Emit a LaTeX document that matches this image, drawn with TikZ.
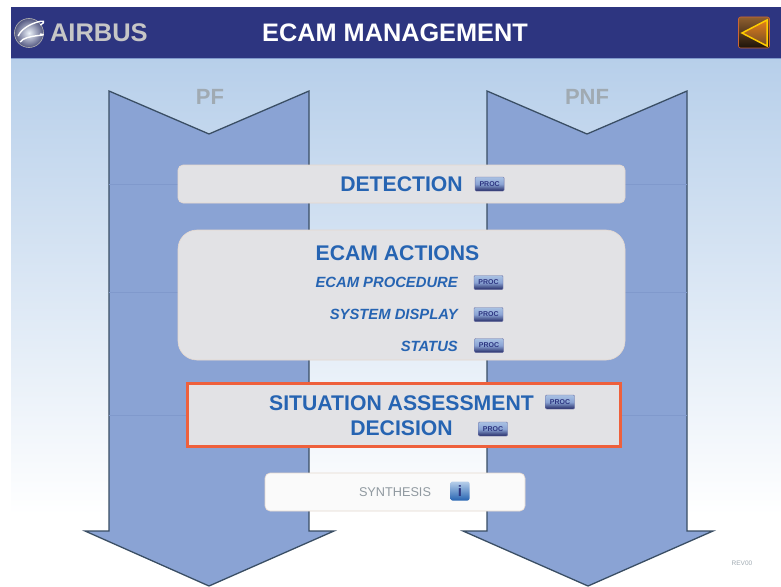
\documentclass[tikz,border=0pt]{standalone}
\usepackage{fontspec}
\setmainfont{Liberation Sans}
\usetikzlibrary{positioning}
\definecolor{headblue}{RGB}{45,53,128}
\definecolor{skyblue}{RGB}{183,207,234}
\definecolor{flowblue}{RGB}{138,163,212}
\definecolor{edgeslate}{RGB}{58,78,100}
\definecolor{seamblue}{RGB}{128,153,204}
\definecolor{boxgray}{RGB}{226,226,229}
\definecolor{inkblue}{RGB}{38,100,178}
\definecolor{alertred}{RGB}{238,96,60}
\definecolor{softgray}{RGB}{160,170,178}
\tikzset{
    flow/.style={draw=edgeslate, line width=1.3pt, fill=flowblue, line join=miter},
    seam/.style={seamblue, line width=0.5pt},
    basic/.style={font=\bfseries, text=inkblue, inner sep=0pt},
    panel/.style={rectangle, fill=boxgray, draw=boxgray!90!orange, line width=0.6pt, inner sep=0pt},
    heading/.style={basic, font=\fontsize{21.2}{21}\selectfont\bfseries},
    subheading/.style={basic, font=\fontsize{14.8}{15}\selectfont\bfseries\itshape},
    actor/.style={basic, text=softgray, font=\fontsize{22}{22}\selectfont\bfseries},
    procbtn/.style={rectangle, rounded corners=1pt, draw=headblue!70, line width=0.4pt,
        top color=skyblue!70!flowblue, bottom color=headblue!80!black, middle color=flowblue, minimum width=29pt, minimum height=14pt,
        inner sep=0pt, text=headblue, font=\fontsize{7}{7}\selectfont\bfseries}
}
\begin{document}
\begin{tikzpicture}[x=1pt,y=-1pt]
    \useasboundingbox (0,0) rectangle (781,586);
    \fill[white] (0,0) rectangle (781,586);
    % sky and title bar
    \shade[top color=skyblue, bottom color=white, middle color=skyblue!50] (11,58) rectangle (781,515);
    \fill[headblue] (11,7) rectangle (781,58);
    \draw[seamblue, line width=0.8pt] (11,58.5) -- (781,58.5);
    % the two flows
    \draw[flow] (109,91) -- (209,134) -- (309,91) -- (309,531) -- (334,531) -- (209,586) -- (85,531) -- (109,531) -- cycle;
    \draw[flow] (487,91) -- (587,134) -- (687,91) -- (687,531) -- (713,531) -- (588,586) -- (463,531) -- (487,531) -- cycle;
    \foreach \y in {184,292,415}{
        \draw[seam] (109,\y) -- (309,\y);
        \draw[seam] (487,\y) -- (687,\y);
    }
    \node[actor] (pf) at (210,97) {PF};
    \node[actor] (pnf) at (587,97) {PNF};
    % title bar content
    \node[circle, minimum size=29pt, inner sep=0pt, draw=gray!60, line width=0.6pt, inner color=white!75!skyblue, outer color=headblue!55!gray] (logo) at (29,33) {};
    \draw[white, line width=1.4pt] (logo.west) ++(4,3) .. controls +(6,-14) and +(14,-8) .. ++(22,-11);
    \draw[white, line width=1.4pt] (logo.west) ++(6,9) .. controls +(5,-8) and +(12,2) .. ++(20,-8);
    \node[basic, text=gray!45, font=\fontsize{25.5}{26}\selectfont\bfseries, right=6pt of logo] (airbus) {AIRBUS};
    \node[basic, text=white, font=\fontsize{25.3}{25}\selectfont\bfseries] (title) at (395,33) {ECAM MANAGEMENT};
    \node[rectangle, rounded corners=2pt, minimum width=31pt, minimum height=31pt, draw=brown!80!red, line width=0.6pt, top color=brown!75!black, bottom color=black!85!brown] (back) at (754,32.5) {};
    \draw[orange!40!yellow, line width=1.5pt, line join=miter, top color=orange!60!brown, bottom color=brown!60!black] (767,20) -- (742,33) -- (767,46) -- cycle;
    % panels
    \node[panel, rounded corners=5pt, minimum width=447pt, minimum height=38pt] (detectbox) at (401.5,184) {};
    \node[heading] (detect) at (401.5,184) {DETECTION};
    \node[procbtn, right=12pt of detect] (detectproc) {PROC};
    \node[panel, rounded corners=19pt, minimum width=447pt, minimum height=130pt] (ecambox) at (401.5,295) {};
    \node[heading] (ecam) at (397.5,253) {ECAM ACTIONS};
    \node[subheading, anchor=east] (procedure) at (458,282) {ECAM PROCEDURE};
    \node[subheading, anchor=east] (display) at (458,314) {SYSTEM DISPLAY};
    \node[subheading, anchor=east] (status) at (458,346) {STATUS};
    \node[procbtn] (procedureproc) at (488.5,282.5) {PROC};
    \node[procbtn] (displayproc) at (488.5,314.5) {PROC};
    \node[procbtn] (statusproc) at (489,345.5) {PROC};
    \node[panel, draw=alertred, line width=3pt, minimum width=433pt, minimum height=63pt] (situationbox) at (404,414.5) {};
    \node[heading] (situation) at (401.5,403) {SITUATION ASSESSMENT};
    \node[heading] (decision) at (401.5,428.5) {DECISION};
    \node[procbtn] (situationproc) at (560,402) {PROC};
    \node[procbtn] (decisionproc) at (493,429) {PROC};
    \node[panel, fill=white!96!gray, rounded corners=5pt, minimum width=260pt, minimum height=38pt] (synthbox) at (395,492) {};
    \node[basic, text=softgray!90!black, font=\fontsize{12.7}{12}\selectfont] (synth) at (395,492.5) {SYNTHESIS};
    \node[rectangle, rounded corners=2pt, minimum width=19pt, minimum height=19pt, inner sep=0pt, top color=skyblue, bottom color=inkblue, text=headblue, font=\fontsize{15}{15}\selectfont\bfseries] (info) at (460,491) {i};
    \node[basic, text=softgray, font=\fontsize{6.5}{6}\selectfont] (rev) at (742,563) {REV00};
\end{tikzpicture}
\end{document}
